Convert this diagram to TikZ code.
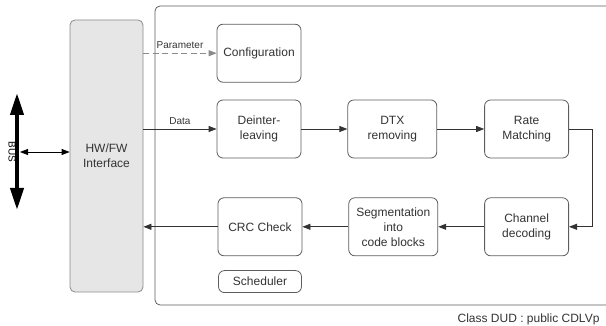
\documentclass[tikz,border=0pt]{standalone}
\usepackage{fontspec}
\setmainfont{Liberation Sans}
\usepackage{tikz}
\usetikzlibrary{arrows.meta,positioning}
\definecolor{bk80}{HTML}{333333}
\definecolor{bk60}{HTML}{5E5E5E}
\definecolor{bk45}{HTML}{8A8A8A}
\definecolor{bk10}{HTML}{E6E6E6}
\tikzset{
  blockbox/.style={
    rectangle, rounded corners=6pt, draw=bk60, fill=white, thick,
    minimum width=#1, minimum height=58pt,
    font=\fontsize{12}{15}\selectfont, text=bk80, align=center,
    inner sep=2pt
  },
  blockbox/.default=84pt,
  ifacebox/.style={
    rectangle, rounded corners=5pt, draw=bk45, fill=bk10, thick,
    minimum width=73pt, minimum height=272pt,
    font=\fontsize{12}{15}\selectfont, text=bk80, align=center
  },
  flowarrow/.style={
    -{Triangle[length=8pt,width=6pt]}, color=bk80, line width=0.8pt
  },
  paramarrow/.style={
    -{Triangle[length=8pt,width=6pt]}, color=bk45, line width=0.9pt,
    dash pattern=on 6pt off 3.5pt
  },
  labelnode/.style={
    font=\fontsize{10}{12}\selectfont, text=bk80
  },
}
\begin{document}
\begin{tikzpicture}[x=1pt,y=-1pt]
    \useasboundingbox (0,0) rectangle (606,326);

    % Container of the processing chain (open on the right)
    \draw[bk60, thick, rounded corners=5pt] (606,6) -- (155,6) -- (155,305) -- (606,305);

    % Interface block
    \node[ifacebox] (hw) at (106.5,156) {HW/FW\\Interface};

    % Bus
    \draw[line width=4pt, {Triangle[length=22pt,width=13pt]}-{Triangle[length=22pt,width=13pt]}]
        (17,93) -- (17,210);
    \node[labelnode, rotate=-90, text=black] (buslbl) at (12,152) {BUS};
    \coordinate (bus) at (20,152);
    \draw[{Triangle[length=8pt,width=6pt]}-{Triangle[length=8pt,width=6pt]}, line width=0.8pt]
        (bus) -- (hw.west |- bus);

    % Upper row
    \node[blockbox] (deint) at (259,129) {Deinter-\\leaving};
    \node[blockbox, above=17pt of deint] (config) {Configuration};
    \node[blockbox=89pt, right=46pt of deint] (dtx) {DTX\\removing};
    \node[blockbox, right=47pt of dtx] (rate) {Rate\\Matching};

    % Lower row
    \node[blockbox, below=39pt of rate] (chan) {Channel\\decoding};
    \node[blockbox=89pt, left=46pt of chan] (seg) {Segmentation\\into\\code blocks};
    \node[blockbox, left=46pt of seg] (crc) {CRC Check};
    \node[blockbox=83pt, minimum height=22pt, below=14pt of crc] (sched) {Scheduler};

    % Connectors
    \draw[paramarrow] (hw.east |- config) -- node[labelnode, above=1pt] {Parameter} (config);
    \draw[flowarrow] (hw.east |- deint) -- node[labelnode, above=1pt] {Data} (deint);
    \draw[flowarrow] (deint) -- (dtx);
    \draw[flowarrow] (dtx) -- (rate);
    \draw[flowarrow] (rate.east) -- ++(23,0) |- (chan.east);
    \draw[flowarrow] (chan) -- (seg);
    \draw[flowarrow] (seg) -- (crc);
    \draw[flowarrow] (crc) -- (hw.east |- crc);

    % Class name
    \node[font=\fontsize{12}{14}\selectfont, text=bk80, anchor=base east] (cls) at (603,323)
        {Class DUD : public CDLVp};
\end{tikzpicture}
\end{document}
